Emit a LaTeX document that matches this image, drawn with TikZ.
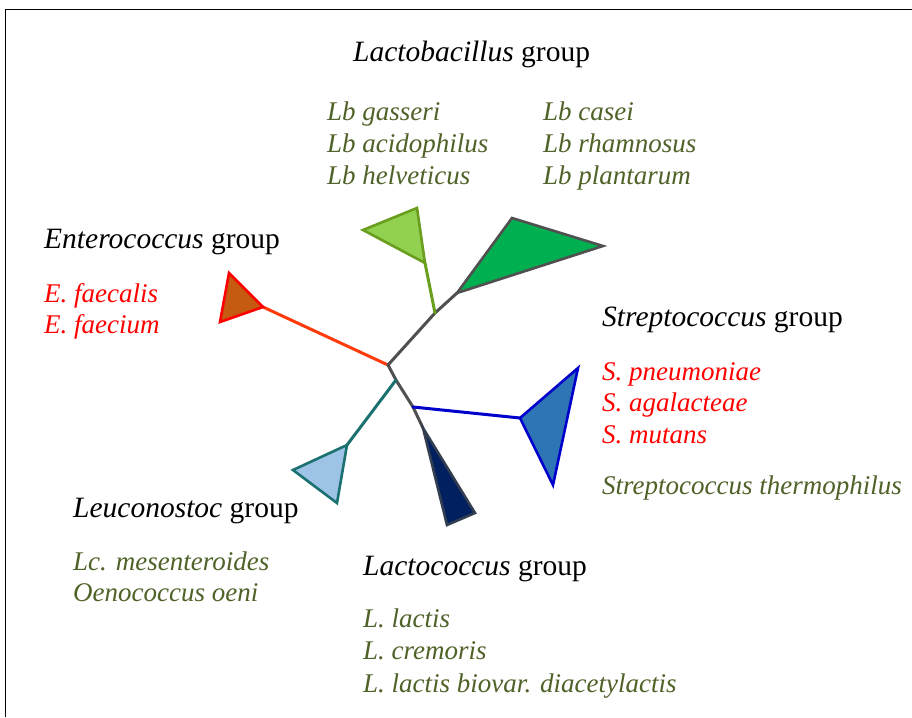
\documentclass[tikz,border=0pt]{standalone}
\usepackage{fontspec}
\setmainfont{Liberation Serif}
\definecolor{txtgreen}{HTML}{4F6228}
\definecolor{txtred}{HTML}{FF0000}
\definecolor{branchgray}{HTML}{505050}
\definecolor{redbranch}{HTML}{FF3B0A}
\definecolor{redfill}{HTML}{C55A11}
\definecolor{lgfill}{HTML}{92D050}
\definecolor{lgline}{HTML}{6A9E1F}
\definecolor{dgfill}{HTML}{00B050}
\definecolor{tealline}{HTML}{1B7070}
\definecolor{tealfill}{HTML}{9DC3E6}
\definecolor{blueline}{HTML}{0000CC}
\definecolor{bluefill}{HTML}{2E75B6}
\definecolor{navyfill}{HTML}{002060}
\definecolor{navyline}{HTML}{333F50}
\tikzset{
  lbl/.style={anchor=base west, inner sep=0pt, font=\fontsize{27}{31}\selectfont},
  grp/.style={anchor=base west, inner sep=0pt, font=\fontsize{29.5}{34}\selectfont, text=black},
  sp/.style={lbl, text=txtgreen},
  spred/.style={lbl, text=txtred},
  branch/.style={line width=3pt, line cap=round, line join=round},
  clade/.style={line width=2.6pt, line join=miter},
}
\begin{document}
\begin{tikzpicture}[x=1pt,y=-1pt]
\useasboundingbox (0,0) rectangle (912,717);
% frame
\draw[line width=1pt] (912,10) -- (5,10) -- (5,717);

% tree coordinates
\coordinate (root) at (388,365);
\coordinate (lbnode) at (435,313);
\coordinate (lbB) at (457,293);
\coordinate (lbA) at (425,263);
\coordinate (ent) at (263,307);
\coordinate (low1) at (396,380);
\coordinate (low2) at (413,407);
\coordinate (lcs) at (423,428);
\coordinate (leu) at (347,445);
\coordinate (str) at (520,418);

% branches
\draw[branch, redbranch] (root) -- (ent);
\draw[branch, branchgray] (root) -- (lbnode) -- (lbB);
\draw[branch, lgline] (lbnode) -- (lbA);
\draw[branch, branchgray] (root) -- (low1) -- (low2) -- (lcs);
\draw[branch, tealline] (low1) -- (leu);
\draw[branch, blueline] (low2) -- (str);

% clades (triangles)
\draw[clade, draw=red, fill=redfill] (ent) -- (229,273) -- (220,322) -- cycle;
\draw[clade, draw=lgline, fill=lgfill] (lbA) -- (363,230) -- (417,208) -- cycle;
\draw[clade, draw=branchgray, fill=dgfill] (lbB) -- (512,218) -- (603,246) -- cycle;
\draw[clade, draw=tealline, fill=tealfill] (leu) -- (293,470) -- (337,503) -- cycle;
\draw[clade, draw=blueline, fill=bluefill] (str) -- (578,368) -- (553,485) -- cycle;
\draw[clade, draw=navyline, fill=navyfill] (lcs) -- (475,513) -- (447,525) -- cycle;

% labels
\node[grp] (tLb) at (353,62) {\textit{Lactobacillus} group};
\node[sp] (lb1) at (327,120) {\textit{Lb gasseri}};
\node[sp] (lb2) at (327,152) {\textit{Lb acidophilus}};
\node[sp] (lb3) at (327,184) {\textit{Lb helveticus}};
\node[sp] (lb4) at (543,120) {\textit{Lb casei}};
\node[sp] (lb5) at (543,152) {\textit{Lb rhamnosus}};
\node[sp] (lb6) at (543,184) {\textit{Lb plantarum}};

\node[grp] (tEn) at (44,248) {\textit{Enterococcus} group};
\node[spred] (en1) at (44,302) {\textit{E. faecalis}};
\node[spred] (en2) at (44,333) {\textit{E. faecium}};

\node[grp] (tSt) at (602,326) {\textit{Streptococcus} group};
\node[spred] (st1) at (602,380) {\textit{S. pneumoniae}};
\node[spred] (st2) at (602,411) {\textit{S. agalacteae}};
\node[spred] (st3) at (602,443) {\textit{S. mutans}};
\node[sp] (st4) at (602,494) {\textit{Streptococcus thermophilus}};

\node[grp] (tLe) at (73,517) {\textit{Leuconostoc} group};
\node[sp] (le1) at (73,570) {\textit{Lc. mesenteroides}};
\node[sp] (le2) at (73,601) {\textit{Oenococcus oeni}};

\node[grp] (tLc) at (363,575) {\textit{Lactococcus} group};
\node[sp] (lc1) at (363,627) {\textit{L. lactis}};
\node[sp] (lc2) at (363,659) {\textit{L. cremoris}};
\node[sp] (lc3) at (363,692) {\textit{L. lactis biovar. diacetylactis}};
\end{tikzpicture}
\end{document}
